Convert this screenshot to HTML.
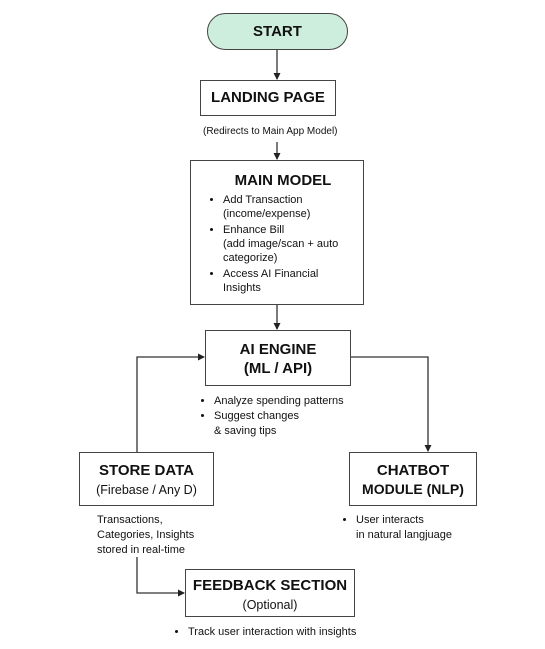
<!DOCTYPE html>
<html><head><style>
body{margin:0;width:545px;height:649px;background:#fff;position:relative;overflow:hidden;font-family:"Liberation Sans",sans-serif;color:#111}
.b{position:absolute;border:1.5px solid #444;box-sizing:border-box;background:#fff;text-align:center}
.t{position:absolute;font-size:11px;line-height:15px;white-space:nowrap}
h{display:block;font-size:15px;font-weight:bold}
ul{margin:0;padding-left:14px;text-align:left}
.bd{font-weight:bold}
</style></head><body>
<svg width="545" height="649" style="position:absolute;left:0;top:0">
<defs><marker id="a" markerWidth="7" markerHeight="7" refX="6" refY="3.5" orient="auto" markerUnits="userSpaceOnUse"><path d="M0,0L7,3.5L0,7z" fill="#222"/></marker></defs>
<g stroke="#333" stroke-width="1.3" fill="none">
<line x1="277" y1="50" x2="277" y2="79" marker-end="url(#a)"/>
<line x1="277" y1="142" x2="277" y2="159" marker-end="url(#a)"/>
<line x1="277" y1="305" x2="277" y2="329" marker-end="url(#a)"/>
<polyline points="137,452 137,357 204,357" marker-end="url(#a)"/>
<polyline points="350,357 428,357 428,451" marker-end="url(#a)"/>
<polyline points="137,557 137,593 184,593" marker-end="url(#a)"/>
</g></svg>
<div class="b bd" style="left:207px;top:13px;width:141px;height:37px;border-radius:19px;background:#cdeedd;font-size:15px;line-height:35px">START</div>
<div class="b bd" style="left:200px;top:80px;width:136px;height:36px;font-size:15px;line-height:34px">LANDING PAGE</div>
<div class="t" style="left:203px;top:124px;font-size:10px">(Redirects to Main App Model)</div>
<div class="b" style="left:190px;top:160px;width:174px;height:145px;padding:11px 6px 0 18px">
<h style="margin-bottom:4px">MAIN MODEL</h>
<ul style="font-size:11px;line-height:14px"><li style="margin-bottom:2px">Add Transaction<br>(income/expense)</li><li style="margin-bottom:2px">Enhance Bill<br>(add image/scan + auto<br>categorize)</li><li>Access AI Financial<br>Insights</li></ul></div>
<div class="b bd" style="left:205px;top:330px;width:146px;height:56px;padding-top:9px;font-size:15px;line-height:19px">AI ENGINE<br>(ML / API)</div>
<div class="t" style="left:200px;top:394px"><ul><li>Analyze spending patterns</li><li>Suggest changes<br>&amp; saving tips</li></ul></div>
<div class="b" style="left:79px;top:452px;width:135px;height:54px;padding-top:8px;line-height:19px"><span style="font-size:15px;font-weight:bold">STORE DATA</span><br><span style="font-size:12.5px">(Firebase / Any D)</span></div>
<div class="b bd" style="left:349px;top:452px;width:128px;height:54px;padding-top:8px;line-height:19px;font-size:14px"><span style="font-size:15px">CHATBOT</span><br>MODULE (NLP)</div>
<div class="t" style="left:97px;top:513px">Transactions,<br>Categories, Insights<br>stored in real-time</div>
<div class="t" style="left:342px;top:513px"><ul><li>User interacts<br>in natural langjuage</li></ul></div>
<div class="b" style="left:185px;top:569px;width:170px;height:48px;padding-top:6px;line-height:19px"><span style="font-size:15px;font-weight:bold">FEEDBACK SECTION</span><br><span style="font-size:12.5px">(Optional)</span></div>
<div class="t" style="left:174px;top:625px"><ul><li>Track user interaction with insights</li></ul></div>
</body></html>
